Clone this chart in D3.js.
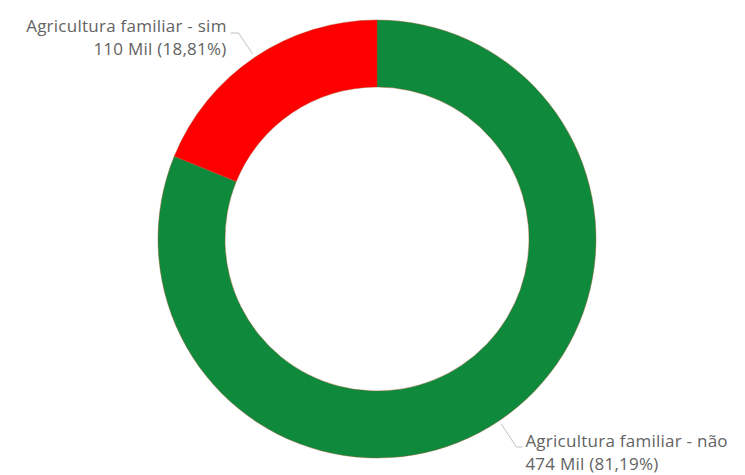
<!DOCTYPE html>
<html>
<head>
<meta charset="utf-8">
<script src="https://cdn.jsdelivr.net/npm/d3@7"></script>
<style>
  body { margin: 0; background: #fff; }
  text { font-family: "Open Sans", "Noto Sans", sans-serif; fill: #636363; }
</style>
</head>
<body>
<svg id="chart" width="745" height="475"></svg>
<script>
const categories = ['Agricultura familiar - não', 'Agricultura familiar - sim'];
const values = [474, 110];
const valueLabels = ['474 Mil', '110 Mil'];
const pctLabels = ['81,19%', '18,81%'];
const colors = ['#0F8A3C', '#FF0000'];

const svg = d3.select('#chart');
const cx = 377, cy = 239;
const outerR = 219, innerR = 152;

const pie = d3.pie().sort(null).value(d => d.value);
const arcs = pie(categories.map((c, i) => ({name: c, value: values[i], i})));

const arc = d3.arc().innerRadius(innerR).outerRadius(outerR);
const g = svg.append('g').attr('transform', `translate(${cx},${cy})`);

g.selectAll('path')
  .data(arcs)
  .join('path')
  .attr('d', arc)
  .attr('fill', d => colors[d.data.i])
  .attr('stroke', '#a0522d')
  .attr('stroke-opacity', 0.5)
  .attr('stroke-width', 0.8);

// rótulos com linhas de chamada (saem do meio de cada fatia)
const outerArc = d3.arc().innerRadius(outerR + 4).outerRadius(outerR + 4);
const leader = d3.line();

arcs.forEach(d => {
  const p0 = outerArc.centroid(d);
  const left = (d.startAngle + d.endAngle) / 2 > Math.PI;
  let p1, p2, tx, ty, anchor;
  if (left) {
    p1 = [p0[0] - 14, -206];
    p2 = [p1[0] - 8, -206];
    tx = p2[0] - 4; ty = -207; anchor = 'end';
  } else {
    p1 = [p0[0] + 15, 208];
    p2 = [p1[0] + 6, 208];
    tx = p2[0] + 3; ty = 208; anchor = 'start';
  }
  g.append('path')
    .attr('d', leader([p0, p1, p2]))
    .attr('fill', 'none')
    .attr('stroke', '#c0c0c0')
    .attr('stroke-width', 1);
  const t = g.append('text')
    .attr('text-anchor', anchor)
    .attr('font-size', 17)
    .attr('letter-spacing', 0.25);
  t.append('tspan').attr('x', tx).attr('y', ty).text(d.data.name);
  t.append('tspan').attr('x', tx).attr('y', ty + 23)
    .text(`${valueLabels[d.data.i]} (${pctLabels[d.data.i]})`);
});
</script>
</body>
</html>
